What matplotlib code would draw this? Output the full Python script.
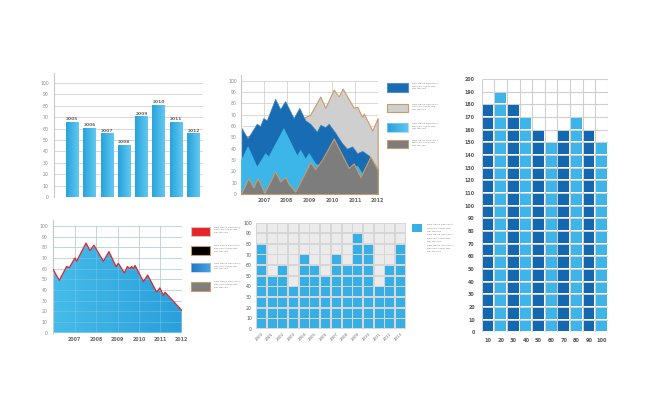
import numpy as np
import matplotlib
matplotlib.use("Agg")
import matplotlib.pyplot as plt
from matplotlib.patches import Rectangle
from matplotlib.colors import LinearSegmentedColormap

W, H = 650, 397

# --- data -------------------------------------------------------------
bar_labels = ["2005", "2006", "2007", "2008", "2009", "2010", "2011", "2012"]
bar_values = [65, 60, 55, 45, 70, 80, 65, 55]

year_ticks = [2007, 2008, 2009, 2010, 2011, 2012]

grey_x = [2006.0, 2008.5, 2008.82, 2009.04, 2009.48, 2009.70, 2010.07, 2010.29,
          2010.46, 2010.95, 2011.10, 2011.32, 2011.39, 2011.76, 2012.0]
grey_y = [50, 60, 68, 70, 86, 76, 92, 86, 93, 76, 77, 68, 71, 56, 67]

dblue_x = [2006.0, 2006.29, 2006.69, 2006.84, 2006.98, 2007.13, 2007.50, 2007.72,
           2007.94, 2008.31, 2008.56, 2008.82, 2009.04, 2009.33, 2009.48, 2009.70,
           2009.85, 2010.14, 2010.43, 2010.65, 2010.88, 2011.10, 2011.32, 2011.61, 2012.0]
dblue_y = [59, 49, 62, 60, 67, 65, 84, 75, 82, 67, 76, 65, 62, 55, 61, 59,
           62, 54, 45, 40, 42, 36, 38, 34, 22]

lblue_x = [2006.0, 2006.29, 2006.69, 2007.06, 2007.20, 2007.86, 2008.45, 2008.60,
           2008.82, 2008.97, 2009.26, 2009.70, 2010.14, 2010.58, 2011.10, 2011.32, 2012.0]
lblue_y = [30, 42, 24, 36, 33, 58, 34, 39, 31, 36, 27, 22, 15, 20, 25, 18, 10]

dgrey_x = [2006.0, 2006.32, 2006.54, 2006.73, 2007.03, 2007.50, 2007.72, 2007.94,
           2008.09, 2008.38, 2009.04, 2009.26, 2009.55, 2010.07, 2010.73, 2010.95,
           2011.24, 2011.68, 2012.0]
dgrey_y = [0, 14, 6, 14, 1, 20, 11, 15, 9, 2, 28, 22, 30, 49, 23, 27, 15, 33, 21]

col_labels = ["10", "20", "30", "40", "50", "60", "70", "80", "90", "100"]
col_values = [180, 190, 180, 170, 160, 150, 160, 170, 160, 150]

area_x = [2006.0, 2006.28, 2006.62, 2006.75, 2007.01, 2007.09, 2007.53, 2007.71,
          2007.90, 2008.34, 2008.60, 2008.93, 2009.04, 2009.32, 2009.46, 2009.58,
          2009.66, 2009.74, 2009.82, 2010.21, 2010.41, 2010.83, 2010.98, 2011.14,
          2011.22, 2012.0]
area_y = [59, 49, 62, 61, 70, 67, 84, 77, 82, 67, 76, 62, 65, 56, 62, 60,
          62, 60, 63, 48, 54, 38, 42, 35, 38, 21]

tile_labels = [str(y) for y in range(2000, 2014)]
tile_values = [80, 50, 60, 40, 70, 60, 50, 70, 60, 90, 80, 40, 60, 80]

filler = ["sww ttaslw swe twe tt", "swe twe ttaslw swe", "swt ttw swe"]

# --- helpers ----------------------------------------------------------
TICK = "#8a8a8a"
GRID = "#d2d2d2"
TAN = "#c89c68"


def px_axes(fig, x0, y0, x1, y1):
    return fig.add_axes([x0 / W, 1 - y1 / H, (x1 - x0) / W, (y1 - y0) / H])


def gradient(ax, extent, c0, c1, zorder=2, clip=None):
    cmap = LinearSegmentedColormap.from_list("g", [c0, c1])
    im = ax.imshow(np.linspace(0, 1, 64).reshape(1, -1), extent=extent, cmap=cmap,
                   aspect="auto", zorder=zorder, interpolation="bilinear")
    if clip is not None:
        im.set_clip_path(clip, ax.transData)
    return im


def bare(ax):
    for s in ax.spines.values():
        s.set_visible(False)
    ax.tick_params(length=0, pad=2)


def filler_text(ax, x, y, n, step=2.6):
    for k in range(n):
        ax.text(x, y + k * step, filler[k % len(filler)], fontsize=1.7,
                color="#808080", va="top", ha="left")


fig = plt.figure(figsize=(W / 100, H / 100), dpi=100)
fig.patch.set_facecolor("white")

# overlay in pixel coordinates for the legends
bg = fig.add_axes([0, 0, 1, 1])
bg.set_xlim(0, W)
bg.set_ylim(H, 0)
bg.axis("off")
bg.patch.set_alpha(0)

# --- chart 1: bars ----------------------------------------------------
ax1 = px_axes(fig, 54.3, 73.5, 203, 197.3)
bare(ax1)
xs = np.arange(len(bar_values))
ax1.hlines(range(0, 101, 10), -1.03, 7.56, color=GRID, lw=0.6, zorder=1)
for x, v, lab in zip(xs, bar_values, bar_labels):
    gradient(ax1, (x - 0.36, x + 0.36, 0, v), "#27a3dc", "#62c8f0")
    ax1.text(x, v + 1.2, lab, ha="center", va="bottom", fontsize=3.2,
             fontweight="bold", color="#666666")
ax1.set_xlim(-1.03, 7.56)
ax1.set_ylim(0, 108)
ax1.spines["left"].set_visible(True)
ax1.spines["left"].set_color("#c8c8c8")
ax1.set_xticks([])
ax1.set_yticks(range(0, 101, 10))
ax1.tick_params(axis="y", labelsize=3.3, labelcolor=TICK, pad=4)

# --- chart 2: overlapping areas ----------------------------------------
ax2 = px_axes(fig, 241, 75, 377.7, 194)
bare(ax2)
ax2.hlines(range(0, 101, 10), 2006, 2012, color=GRID, lw=0.6, zorder=0)
ax2.vlines([2006] + year_ticks, 0, 100, color=GRID, lw=0.6, zorder=0)
ax2.fill_between(grey_x, grey_y, 0, facecolor="#d0cfcf", edgecolor=TAN, lw=0.8, zorder=1)
ax2.fill_between(dblue_x, dblue_y, 0, facecolor="#176cb4", edgecolor="#3f80b8", lw=0.5, zorder=2)
ax2.fill_between(lblue_x, lblue_y, 0, facecolor="#3cb6e8", edgecolor="#3cb6e8", lw=0.5, zorder=3)
ax2.fill_between(dgrey_x, dgrey_y, 0, facecolor="#7d7d7d", edgecolor=TAN, lw=0.8, zorder=4)
ax2.set_xlim(2006, 2012)
ax2.set_ylim(0, 105)
ax2.spines["left"].set_visible(True)
ax2.spines["left"].set_color("#c8c8c8")
ax2.set_xticks(year_ticks)
ax2.set_xticklabels([str(y) for y in year_ticks])
ax2.set_yticks(range(0, 101, 10))
ax2.tick_params(axis="x", labelsize=3.4, labelcolor="#666666", pad=3)
ax2.tick_params(axis="y", labelsize=3.3, labelcolor=TICK, pad=3)
for t in ax2.get_xticklabels():
    t.set_fontweight("bold")

legend2 = [("#176cb4", "#5a8fc0", 83.3), ("#d0cfcf", TAN, 104), (None, "#8fd0ee", 123.3), ("#7d7d7d", TAN, 140)]
for fc, ec, y in legend2:
    if fc is None:
        gradient(bg, (387.3, 407.7, y + 8.4, y), "#2a9fdc", "#5cc6f0", zorder=3)
        bg.add_patch(Rectangle((387.3, y), 20.4, 8.4, fill=False, ec=ec, lw=0.5, zorder=4))
    else:
        bg.add_patch(Rectangle((387.3, y), 20.4, 8.4, fc=fc, ec=ec, lw=0.8, zorder=3))
    filler_text(bg, 412, y - 0.5, 3)

# --- chart 3: tile columns ---------------------------------------------
ax3 = px_axes(fig, 481.7, 79, 608, 332.3)
bare(ax3)
ax3.vlines(range(0, 11), 0, 200, color="#cfcfcf", lw=0.8, zorder=0)
ax3.hlines(range(0, 201, 10), 0, 10, color="#cfcfcf", lw=0.8, zorder=0)
for i, v in enumerate(col_values):
    c = "#1467b1" if i % 2 == 0 else "#3db5ea"
    for j in range(v // 10):
        ax3.add_patch(Rectangle((i + 0.07, j * 10 + 0.7), 0.86, 8.6, fc=c, ec="none", zorder=2))
ax3.set_xlim(0, 10)
ax3.set_ylim(0, 200)
ax3.set_xticks(np.arange(10) + 0.5)
ax3.set_xticklabels(col_labels)
ax3.set_yticks(range(0, 201, 10))
ax3.tick_params(axis="x", labelsize=3.6, labelcolor="#555555", pad=4)
ax3.tick_params(axis="y", labelsize=3.4, labelcolor="#555555", pad=5)
for t in ax3.get_xticklabels() + ax3.get_yticklabels():
    t.set_fontweight("bold")

# --- chart 4: single area ----------------------------------------------
ax4 = px_axes(fig, 53.3, 220, 181.7, 332.7)
bare(ax4)
ax4.hlines(range(0, 101, 10), 2006, 2012, color=GRID, lw=0.6, zorder=0)
ax4.vlines(year_ticks, 0, 100, color=GRID, lw=0.6, zorder=0)
poly = ax4.fill_between(area_x, area_y, 0, facecolor="none", edgecolor="none")
gradient(ax4, (2006, 2012, 0, 100), "#45bce9", "#2a9fda", zorder=1, clip=poly.get_paths()[0])
ax4.hlines(range(10, 101, 10), 2006, 2012, color="#8fd3f0", lw=0.4, alpha=0.6, zorder=1.5)
ax4.vlines(year_ticks, 0, 100, color="#8fd3f0", lw=0.4, alpha=0.6, zorder=1.5)
ax4.plot(area_x, area_y, color="#e0262b", lw=0.9, zorder=3)
ax4.set_xlim(2006, 2012)
ax4.set_ylim(0, 105.6)
ax4.spines["left"].set_visible(True)
ax4.spines["left"].set_color("#c8c8c8")
ax4.set_xticks(year_ticks)
ax4.set_xticklabels([str(y) for y in year_ticks])
ax4.set_yticks(range(0, 101, 10))
ax4.tick_params(axis="x", labelsize=3.4, labelcolor="#666666", pad=3)
ax4.tick_params(axis="y", labelsize=3.3, labelcolor=TICK, pad=4)
for t in ax4.get_xticklabels():
    t.set_fontweight("bold")

legend4 = [("#e8242a", "#c8c8c8", 226.7), ("#000000", TAN, 245.5), (None, "#c8c8c8", 263), ("#7f7f7f", TAN, 281.5)]
for fc, ec, y in legend4:
    if fc is None:
        gradient(bg, (190.5, 210, y + 9, y), "#1f78c6", "#4aa6e2", zorder=3)
        bg.add_patch(Rectangle((190.5, y), 19.5, 9, fill=False, ec=ec, lw=0.5, zorder=4))
    else:
        bg.add_patch(Rectangle((190.5, y), 19.5, 9, fc=fc, ec=ec, lw=0.8, zorder=3))
    filler_text(bg, 213.5, y - 0.3, 3)

# --- chart 5: tile grid ------------------------------------------------
ax5 = px_axes(fig, 256, 222.7, 406, 329)
bare(ax5)
ax5.set_facecolor("#d6d6d6")
for i, v in enumerate(tile_values):
    for j in range(10):
        c = "#35afe6" if j < v // 10 else "#ebebeb"
        ax5.add_patch(Rectangle((i + 0.08, j * 10 + 0.8), 0.84, 8.4, fc=c, ec="none", zorder=2))
ax5.set_xlim(0, 14)
ax5.set_ylim(0, 100)
ax5.set_xticks(np.arange(14) + 0.5)
ax5.set_xticklabels(tile_labels, rotation=45, ha="right", rotation_mode="anchor")
ax5.set_yticks(range(0, 101, 10))
ax5.tick_params(axis="x", labelsize=2.8, labelcolor="#666666", pad=2)
ax5.tick_params(axis="y", labelsize=3.3, labelcolor="#555555", pad=3)

bg.add_patch(Rectangle((412, 224), 9.5, 8, fc="#35afe6", ec="none", zorder=3))
filler_text(bg, 427, 224, 9, step=3.4)

fig.savefig("out.png", dpi=100, facecolor="white")
